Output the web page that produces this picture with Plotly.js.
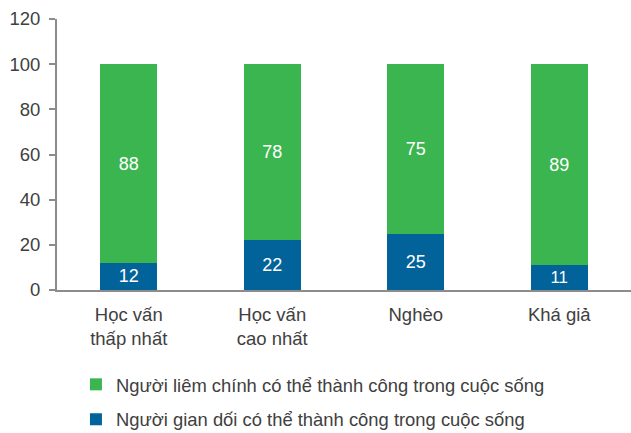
<!DOCTYPE html>
<html><head><meta charset="utf-8">
<script src="https://cdn.plot.ly/plotly-3.0.1.min.js"></script>
<style>body{margin:0}#c{width:631px;height:433px}</style>
</head><body><div id="c"></div>
<script>
const categories = ["Học vấn<br>thấp nhất", "Học vấn<br>cao nhất", "Nghèo", "Khá giả"];
const honest = [88, 78, 75, 89];
const dishonest = [12, 22, 25, 11];
const seriesNames = ["Người liêm chính có thể thành công trong cuộc sống", "Người gian dối có thể thành công trong cuộc sống"];
const font = "Liberation Sans, Arial, sans-serif";
const traces = [
  {type:'bar', x:categories, y:dishonest, name:seriesNames[1], marker:{color:'#02629A'},
   text:dishonest.map(String), textposition:'inside', insidetextanchor:'middle', textangle:0,
   textfont:{color:'#ffffff', size:18, family:font}, width:0.4, legendgroup:'b', legendrank:2, hoverinfo:'y'},
  {type:'bar', x:categories, y:honest, name:seriesNames[0], marker:{color:'#3BB54F'},
   text:honest.map(String), textposition:'inside', insidetextanchor:'middle', textangle:0,
   textfont:{color:'#ffffff', size:18, family:font}, width:0.4, legendgroup:'a', legendrank:1, hoverinfo:'y'}
];
const layout = {
  width:631, height:433, barmode:'stack',
  margin:{l:57, r:0, t:19, b:143, autoexpand:false},
  paper_bgcolor:'#ffffff', plot_bgcolor:'#ffffff',
  font:{family:font, size:18, color:'#404040'},
  xaxis:{showline:true, linecolor:'#8c8c8c', linewidth:2, ticks:'outside', ticklen:0,
         showgrid:false, tickfont:{size:18.5, color:'#404040'}, tickangle:0, ticklabelstandoff:7, fixedrange:true},
  yaxis:{range:[0,120], dtick:20, showline:true, linecolor:'#8c8c8c', linewidth:2,
         ticks:'outside', ticklen:6, tickcolor:'#8c8c8c', tickwidth:2, showgrid:false, zeroline:false,
         ticklabelstandoff:5, tickfont:{size:18.5, color:'#404040'}},
  showlegend:true,
  legend:{orientation:'v', traceorder:'grouped', x:0.033, y:-0.28, xanchor:'left', yanchor:'top',
          tracegroupgap:8, font:{size:18.4, color:'#404040'}},
  bargap:0.6
};
Plotly.newPlot('c', traces, layout, {displayModeBar:false, staticPlot:true});
</script></body></html>
